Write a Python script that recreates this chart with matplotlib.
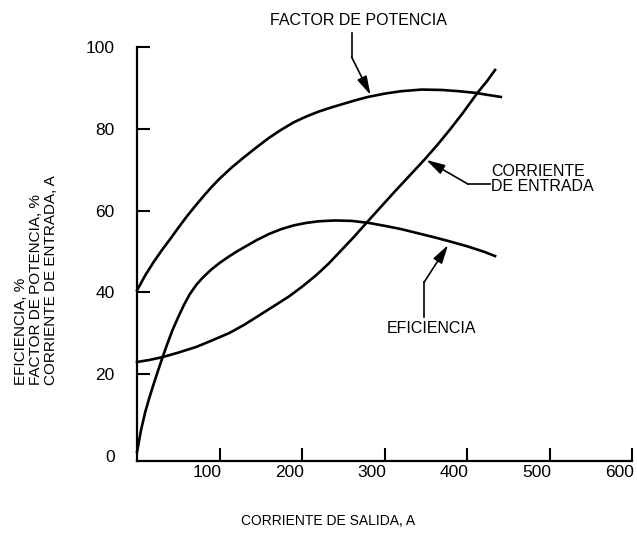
import matplotlib
matplotlib.use("Agg")
import matplotlib.pyplot as plt
from matplotlib.transforms import ScaledTranslation

plt.rcParams["font.family"] = ["Liberation Sans", "DejaVu Sans"]

# --- curves read off the motor characteristic -------------------------------------
# output current (A) vs. power factor (%)
fp_x = [0, 10, 20, 30, 40, 50, 60, 70, 80, 90, 100, 115, 130, 145, 160, 175, 190, 205,
        220, 235, 250, 265, 280, 300, 320, 345, 370, 390, 410, 425, 441]
fp_y = [40.5, 44.2, 47.4, 50.3, 53.0, 55.8, 58.5, 61.0, 63.4, 65.7, 67.8, 70.6, 73.1,
        75.5, 77.8, 79.8, 81.6, 83.0, 84.2, 85.2, 86.1, 87.0, 87.8, 88.6, 89.2, 89.6,
        89.5, 89.2, 88.8, 88.3, 87.8]

# output current (A) vs. efficiency (%)
ef_x = [0, 5, 10, 15, 20, 25, 31, 37, 43, 50, 57, 64, 72, 80, 90, 100, 110, 120, 132,
        145, 160, 175, 190, 205, 220, 240, 260, 281, 300, 320, 340, 360, 377, 400, 420, 434]
ef_y = [1.0, 6.5, 10.8, 14.3, 17.5, 20.6, 24.2, 27.6, 30.8, 34.0, 37.0, 39.6, 41.9, 43.7,
        45.6, 47.2, 48.6, 49.9, 51.3, 52.8, 54.3, 55.5, 56.4, 57.0, 57.4, 57.6, 57.5, 57.0,
        56.3, 55.5, 54.5, 53.5, 52.6, 51.3, 50.0, 48.9]

# output current (A) vs. input current (A)
ce_x = [0, 15, 31, 50, 72, 90, 112, 130, 152, 170, 184, 200, 217, 232, 248, 263, 278,
        295, 313, 331, 349, 365, 380, 395, 413, 424, 434]
ce_y = [23.0, 23.5, 24.2, 25.3, 26.7, 28.2, 30.1, 32.1, 34.9, 37.2, 39.0, 41.4, 44.2,
        47.0, 50.4, 53.6, 57.0, 60.8, 64.8, 68.7, 72.6, 76.3, 80.0, 83.9, 88.9, 91.6, 94.4]

x_ticks = [100, 200, 300, 400, 500, 600]
y_ticks = [0, 20, 40, 60, 80, 100]

fig = plt.figure(figsize=(6.37, 5.43), dpi=100)
ax = fig.add_axes([0.2151, 0.1510, 0.7771, 0.7624])

for xs, ys in [(fp_x, fp_y), (ef_x, ef_y), (ce_x, ce_y)]:
    ax.plot(xs, ys, color="black", lw=1.9, solid_joinstyle="round", clip_on=False)

ax.set_xlim(0, 600)
ax.set_ylim(-1.2, 100)
for side in ["top", "right"]:
    ax.spines[side].set_visible(False)
for side in ["left", "bottom"]:
    ax.spines[side].set_linewidth(1.6)

ax.set_xticks(x_ticks)
ax.set_yticks(y_ticks)
ax.tick_params(axis="x", direction="in", length=9.5, width=1.5, pad=3, labelsize=12.5)
ax.tick_params(axis="y", direction="in", length=9.5, width=1.5, pad=16, labelsize=12.5)
ax.yaxis.get_major_ticks()[0].tick1line.set_visible(False)
for lbl in ax.get_xticklabels():
    lbl.set_transform(lbl.get_transform() + ScaledTranslation(-9 / 72, 0, fig.dpi_scale_trans))

# curve labels with bent leader lines
leaders = [
    # (text, text xy, ha, leader start, bend, arrow tip)
    ("FACTOR DE POTENCIA", (268.7, 106.6), "center", (260, 103.4), (260, 97.6), (283, 88.3)),
    ("CORRIENTE\nDE ENTRADA", (429, 67.7), "left", (428, 66.5), (401, 66.5), (350.6, 72.4)),
    ("EFICIENCIA", (356.6, 31.3), "center", (348, 34.0), (348, 42.5), (377, 51.6)),
]
for text, txy, ha, start, bend, tip in leaders:
    ax.text(*txy, text, ha=ha, va="center", fontsize=11.5, linespacing=1.0, clip_on=False)
    ax.plot([start[0], bend[0]], [start[1], bend[1]], color="black", lw=1.2, clip_on=False)
    ax.annotate("", xy=tip, xytext=bend, annotation_clip=False,
                arrowprops=dict(arrowstyle="-|>,head_length=0.8,head_width=0.22",
                                color="black", lw=1.2, shrinkA=0, shrinkB=0,
                                mutation_scale=14))

fig.text(328 / 637, 1 - 521 / 543, "CORRIENTE DE SALIDA, A", ha="center", va="center",
         fontsize=10)
fig.text(36 / 637, 1 - 385 / 543, "EFICIENCIA, %\nFACTOR DE POTENCIA, %\nCORRIENTE DE ENTRADA, A",
         rotation=90, ha="center", va="bottom", multialignment="left", fontsize=11,
         linespacing=1.1)

fig.savefig("out.png", dpi=100)
